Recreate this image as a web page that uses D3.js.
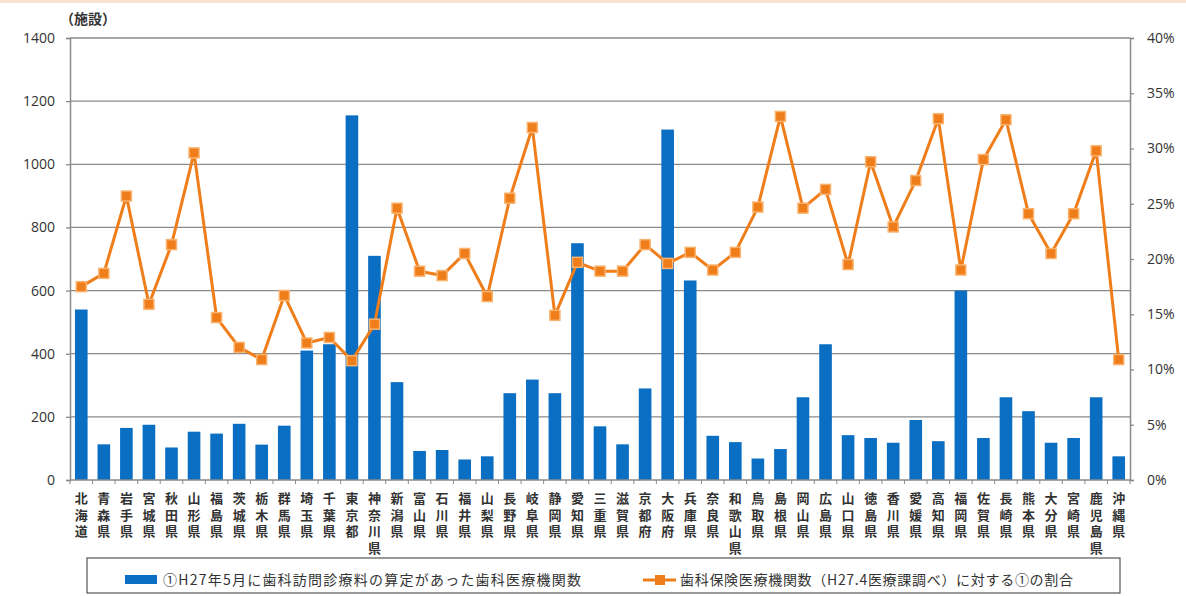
<!DOCTYPE html>
<html lang="ja">
<head>
<meta charset="UTF-8" />
<title>歯科訪問診療</title>
<script src="https://cdn.jsdelivr.net/npm/d3@7"></script>
<style>
  body { margin: 0; background: #fff; }
  text { font-family: "Noto Sans CJK JP", "Noto Sans", sans-serif; fill: #333; }
</style>
</head>
<body>
<svg width="1186" height="596"></svg>
<script>
// 都道府県
var prefs = ['北海道','青森県','岩手県','宮城県','秋田県','山形県','福島県','茨城県','栃木県','群馬県',
  '埼玉県','千葉県','東京都','神奈川県','新潟県','富山県','石川県','福井県','山梨県','長野県',
  '岐阜県','静岡県','愛知県','三重県','滋賀県','京都府','大阪府','兵庫県','奈良県','和歌山県',
  '鳥取県','島根県','岡山県','広島県','山口県','徳島県','香川県','愛媛県','高知県','福岡県',
  '佐賀県','長崎県','熊本県','大分県','宮崎県','鹿児島県','沖縄県'];

// ① 施設数
var facilities = [540,113,165,175,103,153,147,178,112,172,
  410,430,1155,710,310,92,95,65,75,275,
  318,275,750,170,113,290,1110,632,140,120,
  68,98,262,430,142,133,118,190,123,600,
  133,262,218,118,133,262,75];

// 割合 (%)
var ratio = [17.5,18.7,25.7,15.9,21.3,29.6,14.7,12.0,10.9,16.7,
  12.4,12.9,10.8,14.1,24.6,18.9,18.5,20.5,16.6,25.5,
  31.9,14.9,19.7,18.9,18.9,21.3,19.6,20.6,19.0,20.6,
  24.7,32.9,24.6,26.3,19.5,28.8,22.9,27.1,32.7,19.0,
  29.0,32.6,24.1,20.5,24.1,29.8,10.9];

var leftTicks = [0,200,400,600,800,1000,1200,1400];
var rightTicks = [0,5,10,15,20,25,30,35,40];

var legendBar = '①H27年5月に歯科訪問診療料の算定があった歯科医療機関数';
var legendLine = '歯科保険医療機関数（H27.4医療課調べ）に対する①の割合';

var blue = '#0a6fc2', orange = '#ef7d1a';

var svg = d3.select('svg');
var pL = 70, pR = 1130, pT = 38, pB = 480;

// 上部の薄い帯
svg.append('rect').attr('x', 0).attr('y', 0).attr('width', 1186).attr('height', 3).attr('fill', '#fbe3cf');

var x = d3.scaleBand().domain(prefs).range([pL, pR]).paddingInner(0.44).paddingOuter(0.22);
var y = d3.scaleLinear().domain([0, 1400]).range([pB, pT]);
var y2 = d3.scaleLinear().domain([0, 40]).range([pB, pT]);

// グリッド
svg.append('g').selectAll('line').data(leftTicks.slice(1)).enter().append('line')
  .attr('x1', pL).attr('x2', pR)
  .attr('y1', function (d) { return y(d); }).attr('y2', function (d) { return y(d); })
  .attr('stroke', '#8a8a8a').attr('stroke-width', 1.3);

// 左軸
var axL = svg.append('g').attr('transform', 'translate(' + pL + ',0)')
  .call(d3.axisLeft(y).tickValues(leftTicks).tickFormat(d3.format('d')).tickSize(4).tickPadding(11));
axL.selectAll('text').style('font-size', '14px').style('font-family', '"Open Sans", sans-serif').attr('fill', '#333');

// 右軸
var axR = svg.append('g').attr('transform', 'translate(' + pR + ',0)')
  .call(d3.axisRight(y2).tickValues(rightTicks).tickFormat(function (d) { return d + '%'; }).tickSize(4).tickPadding(13));
axR.selectAll('text').style('font-size', '14px').style('font-family', '"Open Sans", sans-serif').attr('fill', '#333');

[axL, axR].forEach(function (a) {
  a.select('.domain').attr('stroke', '#8a8a8a').attr('stroke-width', 1.5);
  a.selectAll('.tick line').attr('stroke', '#8a8a8a').attr('stroke-width', 1.3);
});

// 棒
svg.append('g').selectAll('rect').data(facilities).enter().append('rect')
  .attr('x', function (d, i) { return x(prefs[i]); })
  .attr('y', function (d) { return y(d); })
  .attr('width', x.bandwidth())
  .attr('height', function (d) { return y(0) - y(d); })
  .attr('fill', blue);

// X軸
svg.append('line').attr('x1', pL).attr('x2', pR).attr('y1', pB).attr('y2', pB)
  .attr('stroke', '#8a8a8a').attr('stroke-width', 1.5);
var step = x.step();
svg.append('g').selectAll('line').data(d3.range(prefs.length + 1)).enter().append('line')
  .attr('x1', function (i) { return pL + i * step; }).attr('x2', function (i) { return pL + i * step; })
  .attr('y1', pB).attr('y2', pB + 4).attr('stroke', '#8a8a8a');

// 縦書きラベル（1文字ずつ）
var lab = svg.append('g').selectAll('text').data(prefs).enter().append('text')
  .attr('text-anchor', 'middle')
  .style('font-size', '13px').style('font-weight', 'bold')
  .attr('fill', '#2a2a2a');
lab.each(function (d) {
  var t = d3.select(this), cx = x(d) + x.bandwidth() / 2;
  d.split('').forEach(function (c, k) {
    t.append('tspan').attr('x', cx).attr('y', 503 + k * 16.7).text(c);
  });
});

// 折れ線
var line = d3.line()
  .x(function (d, i) { return x(prefs[i]) + x.bandwidth() / 2; })
  .y(function (d) { return y2(d); });
svg.append('path').datum(ratio).attr('d', line)
  .attr('fill', 'none').attr('stroke', orange).attr('stroke-width', 3).attr('stroke-linejoin', 'round');
svg.append('g').selectAll('rect').data(ratio).enter().append('rect')
  .attr('x', function (d, i) { return x(prefs[i]) + x.bandwidth() / 2 - 5; })
  .attr('y', function (d) { return y2(d) - 5; })
  .attr('width', 10).attr('height', 10)
  .attr('fill', orange).attr('stroke', '#f9b36e').attr('stroke-width', 1.5);

// 単位
svg.append('text').attr('x', 60).attr('y', 24).style('font-size', '14px').style('font-weight', 'bold').text('（施設）');

// 凡例
var lg = svg.append('g');
lg.append('rect').attr('x', 87).attr('y', 558).attr('width', 1033).attr('height', 35)
  .attr('fill', '#fff').attr('stroke', '#555').attr('stroke-width', 1.2);
lg.append('rect').attr('x', 125).attr('y', 575).attr('width', 32).attr('height', 9).attr('fill', blue);
lg.append('text').attr('x', 163).attr('y', 585).style('font-size', '14px')
  .attr('textLength', 418).attr('lengthAdjust', 'spacing').text(legendBar);
lg.append('line').attr('x1', 643).attr('x2', 676).attr('y1', 580).attr('y2', 580)
  .attr('stroke', orange).attr('stroke-width', 3);
lg.append('rect').attr('x', 655).attr('y', 575).attr('width', 10).attr('height', 10).attr('fill', orange);
lg.append('text').attr('x', 680).attr('y', 585).style('font-size', '14px')
  .attr('textLength', 393).attr('lengthAdjust', 'spacing').text(legendLine);
</script>
</body>
</html>
